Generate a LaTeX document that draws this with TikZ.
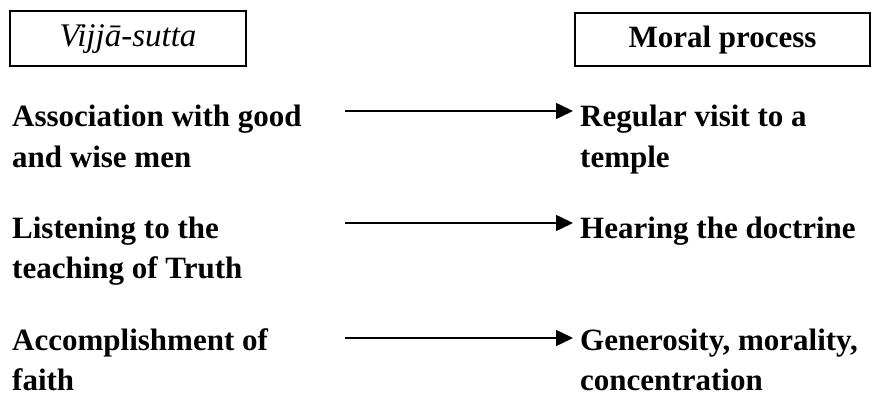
\documentclass[tikz,border=0pt]{standalone}
\usepackage{fontspec}
\setmainfont{Liberation Serif}
\usetikzlibrary{arrows.meta}
\tikzset{
	headbox/.style={draw, line width=1.5pt, inner sep=0pt, text height=21pt, text depth=5pt, font=\fontsize{31}{40}\selectfont},
	txt/.style={anchor=base west, align=left, inner sep=0pt, font=\fontsize{31}{40}\selectfont\bfseries},
	rtxt/.style={txt, inner xsep=7pt},
	arr/.style={line width=1.5pt, -{Triangle[length=17pt,width=16pt]}}
}

\begin{document}
\begin{tikzpicture}[x=1pt, y=-1pt]
		%%%%% START %%%%%
		\useasboundingbox (0, 0) rectangle (872, 401);
		
		\node[headbox, minimum width=236pt, minimum height=55pt, font=\fontsize{33}{40}\selectfont\itshape] (vsutta) at (128, 38.5) {Vijjā-sutta};
		\node[headbox, minimum width=295pt, minimum height=53pt, font=\fontsize{31}{40}\selectfont\bfseries] (moral) at (722.5, 39.5) {Moral process};
		
		% base anchor sits on the last line
		\node[txt] (assoc) at (12, 167) {Association with good\\and wise men};
		\node[txt] (listen) at (12, 278) {Listening to the\\teaching of Truth};
		\node[txt] (faith) at (12, 390) {Accomplishment of\\faith};
		
		\node[rtxt] (temple) at (573, 167) {Regular visit to a\\temple};
		\node[rtxt] (hearing) at (573, 238) {Hearing the doctrine};
		\node[rtxt] (generosity) at (573, 390) {Generosity, morality,\\concentration};
		
		\coordinate (s1) at (345, 111);
		\coordinate (s2) at (345, 223);
		\coordinate (s3) at (345, 338);
		
		\draw[arr] (s1) -- (s1 -| temple.west);
		\draw[arr] (s2) -- (s2 -| hearing.west);
		\draw[arr] (s3) -- (s3 -| generosity.west);
		
		%%%%% END %%%%%
	\end{tikzpicture}
\end{document}
